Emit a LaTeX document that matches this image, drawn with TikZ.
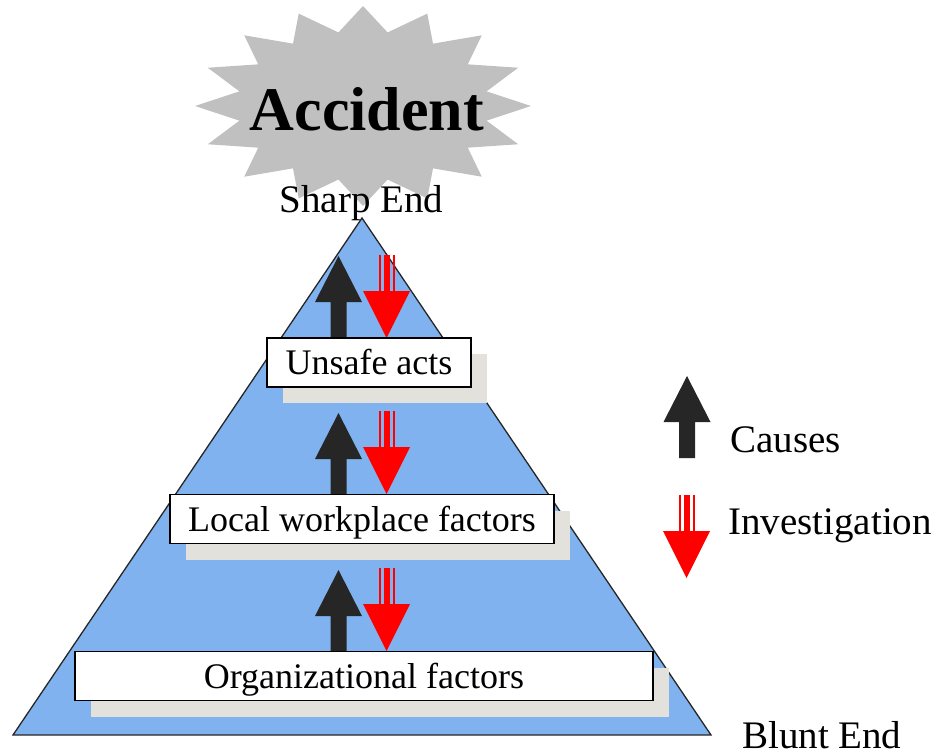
\documentclass[tikz,border=0pt]{standalone}
\usepackage{fontspec}
\setmainfont{Liberation Serif}
\usetikzlibrary{shadows}
\definecolor{pyr}{RGB}{127,178,238}
\definecolor{starg}{RGB}{192,192,192}
\definecolor{shadowg}{RGB}{226,225,220}
\definecolor{causeg}{RGB}{38,38,38}
\tikzset{
  levelbox/.style={draw=black, line width=1.3pt, fill=white, minimum height=49pt,
    text height=24pt, text depth=0pt, inner sep=0pt,
    font=\fontsize{36}{40}\selectfont,
    general shadow={fill=shadowg, draw=none, shadow xshift=16pt, shadow yshift=-16pt}},
  lbl/.style={font=\fontsize{39}{44}\selectfont, inner sep=0pt},
  uparrowpic/.pic={\fill[causeg] (0,-82) -- (23.5,-36) -- (8,-36) -- (8,0) -- (-8,0) -- (-8,-36) -- (-23.5,-36) -- cycle;},
  downarrowpic/.pic={\fill[red] (0,0) -- (-23.5,-47) -- (23.5,-47) -- cycle;
    \fill[red] (-8,-46) rectangle (-6,-83);
    \fill[red] (-3,-46) rectangle (3,-83);
    \fill[red] (6,-46) rectangle (8,-83);}
}
\begin{document}
\begin{tikzpicture}[x=1pt,y=-1pt]
\useasboundingbox (0,0) rectangle (942,755);
% pyramid
\filldraw[fill=pyr, draw=black!85, line width=1.3pt] (362,218) -- (711,735) -- (13,735) -- cycle;
% starburst
\fill[starg] plot[samples at={0,...,31}] ({363+168*(1-0.25*mod(\x,2))*cos(90+11.25*\x)}, {106-100*(1-0.25*mod(\x,2))*sin(90+11.25*\x)}) -- cycle;
\node[anchor=base, inner sep=0pt, font=\fontsize{62}{66}\selectfont\bfseries] (acc) at (367,130) {Accident};
\node[lbl, anchor=base] (sharp) at (361.5,212) {Sharp End};
\node[lbl, anchor=base west, text depth=0pt] (blunt) at (742,748) {Blunt End};
% arrows
\pic at (338.5,338) {uparrowpic};
\pic at (386.5,338) {downarrowpic};
\pic at (338.5,495) {uparrowpic};
\pic at (386.5,494) {downarrowpic};
\pic at (338.5,652) {uparrowpic};
\pic at (386.5,651) {downarrowpic};
% boxes
\node[levelbox, minimum width=204pt] (ua) at (369,362.5) {Unsafe acts};
\node[levelbox, minimum width=384pt] (lwf) at (362,519) {Local workplace factors};
\node[levelbox, minimum width=578pt] (of) at (364,676) {Organizational factors};
% legend
\pic at (687,458) {uparrowpic};
\pic at (686.5,578) {downarrowpic};
\node[lbl, anchor=base west] (causes) at (730,452) {Causes};
\node[lbl, anchor=base west] (inv) at (728,534) {Investigation};
\end{tikzpicture}
\end{document}
